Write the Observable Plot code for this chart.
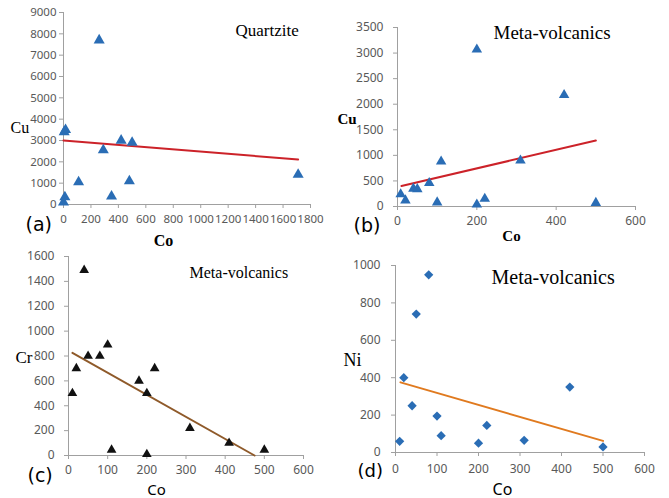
<!DOCTYPE html>
<html><head><meta charset="utf-8">
<script src="https://cdn.jsdelivr.net/npm/d3@7"></script>
<script src="https://cdn.jsdelivr.net/npm/@observablehq/plot@0.6"></script>
<style>
html,body{margin:0;padding:0;background:#fff;}
#root{position:relative;width:669px;height:498px;overflow:hidden;background:#fff;}
.panel{position:absolute;}
.panel svg{overflow:visible;background:transparent;}
</style></head><body><div id="root"></div>
<script>
// (a) Quartzite: Co vs Cu
const qCo = [0, 10, 5, 15, 110, 260, 290, 350, 420, 480, 500, 1710];
const qCu = [100, 350, 3400, 3500, 1050, 7700, 2550, 380, 3000, 1100, 2900, 1400];
const qTrendCo = [0, 1710];
const qTrendCu = [3000, 2110];
const qXTicks = [0, 200, 400, 600, 800, 1000, 1200, 1400, 1600, 1800];
const qYTicks = [0, 1000, 2000, 3000, 4000, 5000, 6000, 7000, 8000, 9000];

// (b) Meta-volcanics: Co vs Cu
const mCo = [8, 20, 40, 50, 80, 100, 110, 200, 200, 220, 310, 420, 500];
const mCu = [240, 120, 350, 340, 460, 80, 880, 3070, 40, 150, 900, 2180, 70];
const mTrendCo = [10, 500];
const mTrendCu = [400, 1290];
const mXTicks = [0, 200, 400, 600];
const mYTicks = [0, 500, 1000, 1500, 2000, 2500, 3000, 3500];

// (c) Meta-volcanics: Co vs Cr
const cCo = [10, 20, 40, 50, 80, 100, 110, 180, 200, 200, 220, 310, 410, 500];
const cCr = [500, 700, 1490, 800, 800, 890, 45, 600, 500, 10, 700, 220, 100, 45];
const cTrendCo = [10, 475];
const cTrendCr = [825, 0];
const cXTicks = [0, 100, 200, 300, 400, 500, 600];
const cYTicks = [0, 200, 400, 600, 800, 1000, 1200, 1400, 1600];

// (d) Meta-volcanics: Co vs Ni
const dCo = [10, 20, 40, 50, 80, 100, 110, 200, 220, 310, 420, 500];
const dNi = [60, 400, 250, 740, 950, 195, 90, 50, 145, 65, 350, 30];
const dTrendCo = [12, 500];
const dTrendNi = [375, 62];
const dXTicks = [0, 100, 200, 300, 400, 500, 600];
const dYTicks = [0, 200, 400, 600, 800, 1000];

const AXIS = "#a0a0a0";
const TICKTXT = "#595959";
const BLUE = "#2a6db5";
const SERIF = "Liberation Serif, Times New Roman, serif";
const SANS = "Noto Sans, sans-serif";
const PAREN = "DejaVu Sans, sans-serif";

const zip = (xs, ys) => xs.map((x, i) => ({x, y: ys[i]}));

function label(p, text, gx, gy, o) {
  return Plot.text([text], {
    frameAnchor: "top-left",
    dx: gx - (p.left + p.ml),
    dy: gy - (p.top + p.mt),
    text: d => d,
    lineAnchor: "bottom",
    textAnchor: o.anchor || "start",
    fontFamily: o.font,
    fontSize: o.size,
    fontWeight: o.weight || "normal",
    fill: "#000"
  });
}

function panel(p) {
  const fmt = d => String(d);
  const plot = Plot.plot({
    width: p.width, height: p.height,
    marginLeft: p.ml, marginRight: p.mr, marginTop: p.mt, marginBottom: p.mb,
    style: {fontFamily: SANS, fontSize: "12px", color: TICKTXT, background: "transparent", overflow: "visible"},
    x: {domain: p.xDomain},
    y: {domain: p.yDomain},
    marks: [
      Plot.ruleY([0], {stroke: AXIS, strokeWidth: 1}),
      Plot.ruleX([0], {stroke: AXIS, strokeWidth: 1}),
      Plot.axisX(p.xTicks, {tickSize: 4, tickPadding: p.xPad, stroke: AXIS, fill: TICKTXT, tickFormat: fmt, label: null, fontSize: p.tickSize || 12}),
      Plot.axisY(p.yTicks, {tickSize: 4, tickPadding: p.yPad, stroke: AXIS, fill: TICKTXT, tickFormat: fmt, label: null, fontSize: p.tickSize || 12}),
      Plot.line(zip(p.trendX, p.trendY), {x: "x", y: "y", stroke: p.trendColor, strokeWidth: 2}),
      Plot.dot(zip(p.xs, p.ys), {x: "x", y: "y", symbol: p.symbol, r: p.r, fill: p.fill, stroke: "none", rotate: p.rotate || 0}),
      ...p.labels.map(l => label(p, l[0], l[1], l[2], l[3]))
    ]
  });
  const div = document.createElement("div");
  div.className = "panel";
  div.style.left = p.left + "px";
  div.style.top = p.top + "px";
  div.appendChild(plot);
  document.getElementById("root").appendChild(div);
}

panel({
  left: 0, top: 0, width: 330, height: 240, ml: 63, mr: 20, mt: 12, mb: 36,
  xDomain: [0, 1800], yDomain: [0, 9000], xTicks: qXTicks, yTicks: qYTicks, xPad: 6, yPad: 3, tickSize: 11.5,
  xs: qCo, ys: qCu, symbol: "triangle", r: 4.1, fill: BLUE,
  trendX: qTrendCo, trendY: qTrendCu, trendColor: "#cc2229",
  labels: [
    ["Quartzite", 235, 35, {font: SERIF, size: 17}],
    ["Cu", 10, 132, {font: SERIF, size: 16}],
    ["Co", 163, 245, {font: SERIF, size: 16, weight: "bold", anchor: "middle"}],
    ["(a)", 25, 230, {font: PAREN, size: 19}]
  ]
});

panel({
  left: 330, top: 0, width: 339, height: 240, ml: 67, mr: 34, mt: 27, mb: 34,
  xDomain: [0, 600], yDomain: [0, 3500], xTicks: mXTicks, yTicks: mYTicks, xPad: 6, yPad: 10,
  xs: mCo, ys: mCu, symbol: "triangle", r: 3.9, fill: BLUE,
  trendX: mTrendCo, trendY: mTrendCu, trendColor: "#cc2229",
  labels: [
    ["Meta-volcanics", 493, 38, {font: SERIF, size: 19}],
    ["Cu", 337, 123, {font: SERIF, size: 15, weight: "bold"}],
    ["Co", 511, 240, {font: SERIF, size: 15, weight: "bold", anchor: "middle"}],
    ["(b)", 353, 231, {font: PAREN, size: 19}]
  ]
});

panel({
  left: 0, top: 240, width: 330, height: 258, ml: 68, mr: 27, mt: 16, mb: 43,
  xDomain: [0, 600], yDomain: [0, 1600], xTicks: cXTicks, yTicks: cYTicks, xPad: 6, yPad: 10,
  xs: cCo, ys: cCr, symbol: "triangle", r: 3.6, fill: "#111111",
  trendX: cTrendCo, trendY: cTrendCr, trendColor: "#8f5a2a",
  labels: [
    ["Meta-volcanics", 189, 277, {font: SERIF, size: 16}],
    ["Cr", 15, 362, {font: SERIF, size: 17}],
    ["Co", 156, 494, {font: SANS, size: 15, anchor: "middle"}],
    ["(c)", 27, 481, {font: PAREN, size: 19}]
  ]
});

panel({
  left: 330, top: 240, width: 339, height: 258, ml: 65, mr: 25, mt: 25, mb: 46,
  xDomain: [0, 600], yDomain: [0, 1000], xTicks: dXTicks, yTicks: dYTicks, xPad: 8, yPad: 11,
  xs: dCo, ys: dNi, symbol: "square", r: 3.7, rotate: 45, fill: BLUE,
  trendX: dTrendCo, trendY: dTrendNi, trendColor: "#e07a1f",
  labels: [
    ["Meta-volcanics", 491, 283, {font: SERIF, size: 20}],
    ["Ni", 343, 365, {font: SERIF, size: 18}],
    ["Co", 502, 494, {font: SANS, size: 16, anchor: "middle"}],
    ["(d)", 357, 476, {font: PAREN, size: 18}]
  ]
});
</script>
</body></html>
